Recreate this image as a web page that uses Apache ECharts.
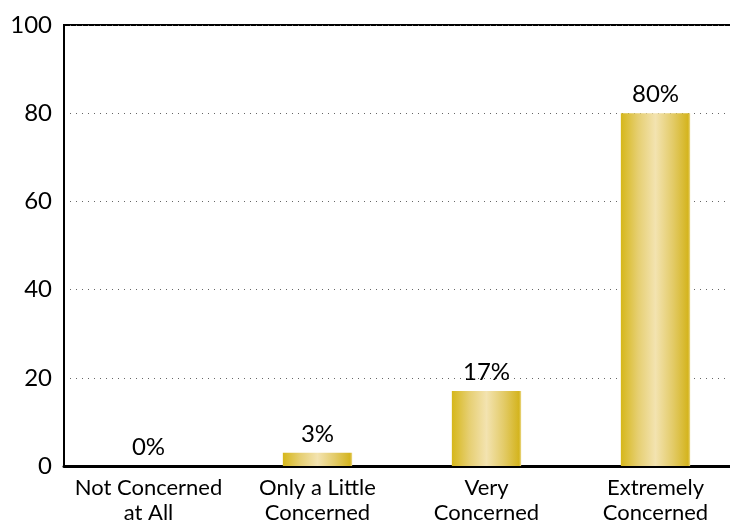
<!DOCTYPE html>
<html>
<head>
<meta charset="utf-8">
<script src="https://cdn.jsdelivr.net/npm/echarts@6/dist/echarts.min.js"></script>
<style>
  html, body { margin: 0; padding: 0; background: #fff; }
  #chart { width: 730px; height: 525px; }
</style>
</head>
<body>
<div id="chart"></div>
<script>
// Level of concern, share of respondents (%)
const categories = ['Not Concerned\nat All', 'Only a Little\nConcerned', 'Very\nConcerned', 'Extremely\nConcerned'];
const shares = [0, 3, 17, 80];
const yTicks = [0, 20, 40, 60, 80, 100];

const chart = echarts.init(document.getElementById('chart'));

const goldBar = new echarts.graphic.LinearGradient(0, 0, 1, 0, [
  { offset: 0, color: '#d6b71a' },
  { offset: 0.25, color: '#e6cf72' },
  { offset: 0.5, color: '#f3e3b0' },
  { offset: 0.75, color: '#e3cb68' },
  { offset: 0.97, color: '#d4b41e' },
  { offset: 1, color: '#ecd98a' }
]);

chart.setOption({
  animation: false,
  textStyle: { fontFamily: 'Lato, "Noto Sans", sans-serif' },
  grid: {
    left: 64, right: -10, top: 25, bottom: 59,
    outerBoundsMode: 'none',
    containLabel: false,
    show: true, borderColor: '#000', borderWidth: 2
  },
  xAxis: {
    type: 'category',
    data: categories,
    axisLine: { show: true, lineStyle: { color: '#000', width: 3 } },
    axisTick: { show: false },
    axisLabel: {
      color: '#000', fontSize: 22, lineHeight: 25, margin: 9,
      interval: 0
    }
  },
  yAxis: {
    type: 'value',
    min: yTicks[0], max: yTicks[yTicks.length - 1], interval: 20,
    axisLine: { show: true, lineStyle: { color: '#000', width: 2 } },
    axisTick: { show: false },
    axisLabel: { color: '#000', fontSize: 24, margin: 12, padding: [0, 0, 7, 0] },
    splitLine: {
      show: true,
      lineStyle: { color: '#666', type: [1, 5], width: 1 }
    }
  },
  series: [{
    type: 'bar',
    data: shares,
    barWidth: '41%',
    itemStyle: { color: goldBar },
    label: {
      show: true, position: 'top', distance: 7,
      formatter: p => p.value + '%',
      color: '#000', fontSize: 24
    }
  }]
});
</script>
</body>
</html>
